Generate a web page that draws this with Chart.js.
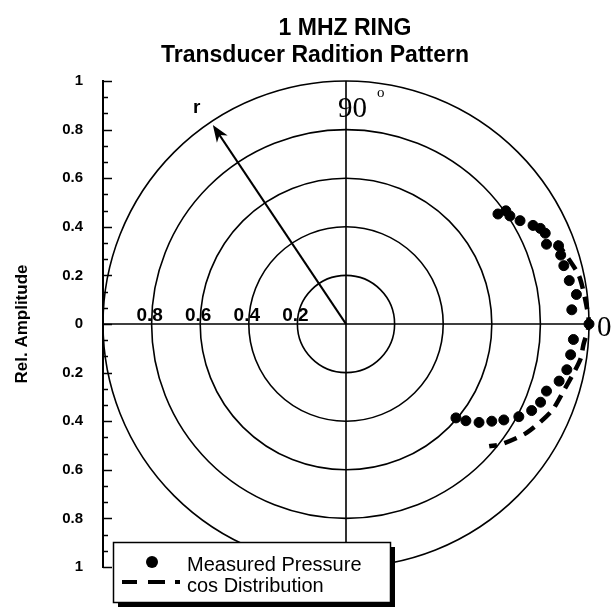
<!DOCTYPE html>
<html>
<head>
<meta charset="utf-8">
<script src="https://cdn.jsdelivr.net/npm/chart.js@4.4.0/dist/chart.umd.min.js"></script>
<style>
  html, body { margin: 0; padding: 0; background: #fff; }
  #wrap { width: 613px; height: 609px; }
</style>
</head>
<body>
<div id="wrap"><canvas id="patternChart" width="613" height="609"></canvas></div>
<script>
// measured pressure: angle (deg from the 0 axis) and relative amplitude
const measuredAngles = [35.9, 35.3, 33.4, 30.7, 27.8, 26.2, 24.5, 21.7, 20.2, 17.8, 15.0, 11.0, 7.3, 3.6, 0,
                        -3.9, -7.8, -11.7, -15.0, -18.5, -21.9, -25.0, -28.2, -31.3, -33.7, -36.5, -38.9, -40.5];
const measuredAmps = [0.772, 0.806, 0.808, 0.833, 0.870, 0.891, 0.901, 0.888, 0.932, 0.928, 0.928, 0.936, 0.956, 0.931, 1.0,
                      0.938, 0.933, 0.928, 0.908, 0.870, 0.863, 0.843, 0.807, 0.760, 0.721, 0.681, 0.634, 0.595];

// cos distribution curve
const cosAngles = [21.5, 12.0, 5.6, 0, -4.9, -8.4, -12.0, -16.8, -22.9, -30.9, -37.5, -40.5];
const cosAmps = [0.930, 0.978, 0.990, 1.0, 0.981, 0.976, 0.959, 0.938, 0.919, 0.869, 0.811, 0.775];

const ringRadii = [0.2, 0.4, 0.6, 0.8, 1.0];
const yTickValues = [1, 0.8, 0.6, 0.4, 0.2, 0, -0.2, -0.4, -0.6, -0.8, -1];

const arrowAngle = 123.8;   // the "r" arrow
const arrowLength = 0.985;

function toXY(angles, amps) {
    return angles.map((a, i) => {
        const t = a * Math.PI / 180;
        return { x: amps[i] * Math.cos(t), y: amps[i] * Math.sin(t) };
    });
}

const SANS = '"Liberation Sans", Arial, sans-serif';
const SERIF = '"Liberation Serif", "Times New Roman", serif';

const polarFrame = {
    id: 'polarFrame',
    beforeDatasetsDraw(chart) {
        const { ctx, scales: { x, y } } = chart;
        const cx = x.getPixelForValue(0);
        const cy = y.getPixelForValue(0);
        const unit = x.getPixelForValue(1) - cx;
        ctx.save();
        ctx.strokeStyle = '#000';
        ctx.fillStyle = '#000';
        ctx.lineWidth = 1.6;

        ringRadii.forEach(r => {
            ctx.beginPath();
            ctx.arc(cx, cy, r * unit, 0, Math.PI * 2);
            ctx.stroke();
        });

        ctx.beginPath();
        ctx.moveTo(x.getPixelForValue(-1), cy);
        ctx.lineTo(x.getPixelForValue(1), cy);
        ctx.moveTo(cx, y.getPixelForValue(1));
        ctx.lineTo(cx, y.getPixelForValue(-1));
        ctx.stroke();

        // radius labels on the left half
        ctx.font = 'bold 19px ' + SANS;
        ctx.textAlign = 'center';
        ctx.textBaseline = 'alphabetic';
        ringRadii.filter(r => r < 1).forEach(r => {
            ctx.fillText(r.toFixed(1), x.getPixelForValue(-r) - 2, cy - 3);
        });

        // r arrow
        const a = arrowAngle * Math.PI / 180;
        const tx = x.getPixelForValue(arrowLength * Math.cos(a));
        const ty = y.getPixelForValue(arrowLength * Math.sin(a));
        const dir = Math.atan2(ty - cy, tx - cx);
        ctx.lineWidth = 2.2;
        ctx.beginPath();
        ctx.moveTo(cx, cy);
        ctx.lineTo(tx - 8 * Math.cos(dir), ty - 8 * Math.sin(dir));
        ctx.stroke();
        const hl = 17, hw = 6.5;
        const bx = tx - hl * Math.cos(dir), by = ty - hl * Math.sin(dir);
        ctx.beginPath();
        ctx.moveTo(tx, ty);
        ctx.lineTo(bx + hw * Math.sin(dir), by - hw * Math.cos(dir));
        ctx.lineTo(tx - 12 * Math.cos(dir), ty - 12 * Math.sin(dir));
        ctx.lineTo(bx - hw * Math.sin(dir), by + hw * Math.cos(dir));
        ctx.closePath();
        ctx.fill();

        ctx.textAlign = 'left';
        ctx.font = 'bold 19px ' + SANS;
        ctx.fillText('r', cx - 153, cy - 211);

        ctx.font = '29px ' + SERIF;
        ctx.fillText('90', cx - 8, cy - 207);
        ctx.font = '15px ' + SERIF;
        ctx.fillText('o', cx + 31, cy - 227);
        ctx.font = '29px ' + SERIF;
        ctx.fillText('0', x.getPixelForValue(1) + 8, cy + 12);
        ctx.restore();
    },
    afterDraw(chart) {
        const { ctx, scales: { y } } = chart;
        ctx.save();
        ctx.strokeStyle = '#000';
        ctx.fillStyle = '#000';

        // inward ticks on the amplitude axis, two minor ticks between labels
        const ax = y.right;
        ctx.lineWidth = 1.5;
        for (let i = -15; i <= 15; i++) {
            const py = Math.round(y.getPixelForValue(i / 15)) + 0.5;
            const len = i % 3 === 0 ? 9 : 5;
            ctx.beginPath();
            ctx.moveTo(ax, py);
            ctx.lineTo(ax + len, py);
            ctx.stroke();
        }

        // titles
        ctx.font = 'bold 23px ' + SANS;
        ctx.textAlign = 'center';
        ctx.textBaseline = 'alphabetic';
        ctx.fillText('1 MHZ RING', 345, 35);
        ctx.fillText('Transducer Radition Pattern', 315, 62);

        // legend box with drop shadow
        const lx = 113, ly = 542, lw = 277, lh = 60;
        ctx.fillRect(lx + 5, ly + 5, lw, lh);
        ctx.fillStyle = '#fff';
        ctx.fillRect(lx, ly, lw, lh);
        ctx.lineWidth = 1.5;
        ctx.strokeRect(lx + 0.5, ly + 0.5, lw, lh);
        ctx.fillStyle = '#000';
        ctx.beginPath();
        ctx.arc(152, 562, 6, 0, Math.PI * 2);
        ctx.fill();
        ctx.fillRect(122, 580, 15, 4);
        ctx.fillRect(148, 580, 17, 4);
        ctx.fillRect(175, 580, 5, 4);
        ctx.font = '20px ' + SANS;
        ctx.textAlign = 'left';
        ctx.fillText('Measured Pressure', 187, 571);
        ctx.fillText('cos Distribution', 187, 592);
        ctx.restore();
    }
};

const ctx = document.getElementById('patternChart').getContext('2d');
new Chart(ctx, {
    type: 'scatter',
    data: {
        datasets: [{
            label: 'Measured Pressure',
            data: toXY(measuredAngles, measuredAmps),
            backgroundColor: '#000',
            borderColor: '#000',
            pointRadius: 5,
            pointHoverRadius: 5,
            clip: false
        }, {
            label: 'cos Distribution',
            data: toXY(cosAngles, cosAmps),
            showLine: true,
            borderColor: '#000',
            borderWidth: 4.5,
            borderDash: [13, 8],
            pointRadius: 0,
            tension: 0.25,
            fill: false,
            clip: false
        }]
    },
    options: {
        responsive: false,
        animation: false,
        layout: { padding: { left: 10, right: 24, top: 81, bottom: 42 } },
        scales: {
            x: { type: 'linear', min: -1, max: 1, display: false },
            y: {
                type: 'linear',
                min: -1,
                max: 1,
                afterFit(scale) { scale.width = 93; },
                afterBuildTicks(scale) { scale.ticks = yTickValues.map(v => ({ value: v })); },
                grid: { display: false, drawTicks: false },
                border: { display: true, color: '#000', width: 2 },
                ticks: {
                    color: '#000',
                    padding: 20,
                    font: { family: SANS, size: 15, weight: 'bold' },
                    callback: v => String(Math.abs(Math.round(v * 10) / 10))
                },
                title: {
                    display: true,
                    text: 'Rel. Amplitude',
                    color: '#000',
                    font: { family: SANS, size: 17, weight: 'bold' },
                    padding: { top: 2, bottom: 0 }
                }
            }
        },
        plugins: {
            legend: { display: false },
            tooltip: { enabled: false }
        }
    },
    plugins: [polarFrame]
});
</script>
</body>
</html>
